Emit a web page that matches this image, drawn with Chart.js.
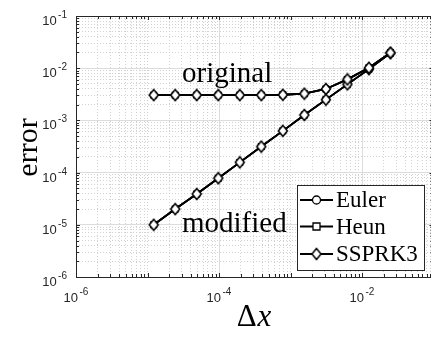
<!DOCTYPE html>
<html>
<head>
<meta charset="utf-8">
<script src="https://cdn.jsdelivr.net/npm/chart.js@4/dist/chart.umd.min.js"></script>
<style>
  html, body { margin: 0; padding: 0; background: #fff; overflow: hidden; }
  #wrap { width: 440px; height: 337px; }
</style>
</head>
<body>
<div id="wrap"><canvas id="miGrafico" width="440" height="337"></canvas></div>
<script>
// grid spacing dx and the error of each scheme
const dx = [1.2207e-5, 2.4414e-5, 4.8828e-5, 9.7656e-5, 1.9531e-4, 3.9063e-4,
            7.8125e-4, 1.5625e-3, 3.125e-3, 6.25e-3, 1.25e-2, 2.5e-2];
const errOriginal = [3.05e-3, 3.05e-3, 3.05e-3, 3.05e-3, 3.05e-3, 3.05e-3,
                     3.1e-3, 3.25e-3, 4.0e-3, 6.1e-3, 1.02e-2, 1.98e-2];
const errModified = [1.0e-5, 2.0e-5, 3.9e-5, 7.8e-5, 1.57e-4, 3.15e-4,
                     6.3e-4, 1.27e-3, 2.5e-3, 4.9e-3, 9.6e-3, 1.95e-2];
const methods = ['Euler', 'Heun', 'SSPRK3'];
const xTickExp = [-6, -4, -2];
const yTickExp = [-1, -2, -3, -4, -5, -6];
const labelOriginal = 'original';
const labelModified = 'modified';

const serif = '"Liberation Serif", "DejaVu Serif", serif';
const sans = '"Liberation Sans", Arial, sans-serif';
const axisColor = '#262626';

// taller diamond like the matlab marker
function makeDiamond(w, h) {
    const c = document.createElement('canvas');
    c.width = w + 3; c.height = h + 3;
    const g = c.getContext('2d');
    const cx = c.width / 2, cy = c.height / 2;
    g.beginPath();
    g.moveTo(cx, cy - h / 2);
    g.lineTo(cx + w / 2, cy);
    g.lineTo(cx, cy + h / 2);
    g.lineTo(cx - w / 2, cy);
    g.closePath();
    g.fillStyle = '#fff';
    g.fill();
    g.lineWidth = 1.5;
    g.strokeStyle = '#000';
    g.stroke();
    return c;
}
const diamond = makeDiamond(9, 11);
const markers = { Euler: 'circle', Heun: 'rect', SSPRK3: diamond };

function pts(ys) { return dx.map((x, i) => ({ x: x, y: ys[i] })); }

// order: higher number is drawn first, so SSPRK3 ends up on top
const datasets = [];
methods.forEach((m, mi) => {
    [errOriginal, errModified].forEach(ys => {
        datasets.push({
            label: m,
            data: pts(ys),
            order: methods.length - mi,
            showLine: true,
            borderColor: '#000',
            backgroundColor: '#fff',
            borderWidth: 1.8,
            pointStyle: markers[m],
            pointRadius: m === 'Euler' ? 3.5 : 4,
            pointBorderWidth: 1.3,
            pointBorderColor: '#000',
            pointBackgroundColor: '#fff'
        });
    });
});

function logTicks(lo, hi) {
    const t = [];
    for (let e = lo; e < hi; e++) {
        for (let k = 1; k < 10; k++) t.push({ value: k * Math.pow(10, e), major: k === 1 });
    }
    t.push({ value: Math.pow(10, hi), major: true });
    return t;
}
function isDecade(v) {
    const l = Math.log10(v);
    return Math.abs(l - Math.round(l)) < 1e-6;
}
function isLabeledX(v) {
    return isDecade(v) && Math.round(Math.log10(v)) % 2 === 0;
}

const gridMajor = '#dcdcdc';
const gridMinor = '#d2d2d2';

// box, inward ticks, power-of-ten labels, annotations and legend
const decorPlugin = {
    id: 'decor',
    afterDraw(chart) {
        const ctx = chart.ctx;
        const a = chart.chartArea;
        const xs = chart.scales.x, ys = chart.scales.y;
        ctx.save();

        // ticks on all four sides
        ctx.strokeStyle = axisColor;
        ctx.lineWidth = 1;
        xs.ticks.forEach(t => {
            const px = Math.round(xs.getPixelForValue(t.value)) + 0.5;
            const len = isDecade(t.value) ? 4 : 3;
            ctx.beginPath();
            ctx.moveTo(px, a.bottom); ctx.lineTo(px, a.bottom - len);
            ctx.moveTo(px, a.top); ctx.lineTo(px, a.top + len);
            ctx.stroke();
        });
        ys.ticks.forEach(t => {
            const py = Math.round(ys.getPixelForValue(t.value)) + 0.5;
            const len = isDecade(t.value) ? 4 : 3;
            ctx.beginPath();
            ctx.moveTo(a.left, py); ctx.lineTo(a.left + len, py);
            ctx.moveTo(a.right, py); ctx.lineTo(a.right - len, py);
            ctx.stroke();
        });

        // box
        ctx.strokeStyle = axisColor;
        ctx.lineWidth = 1;
        ctx.strokeRect(Math.round(a.left) + 0.5, Math.round(a.top) + 0.5,
                       Math.round(a.right - a.left), Math.round(a.bottom - a.top));

        // tick labels 10^n
        ctx.fillStyle = axisColor;
        ctx.textBaseline = 'alphabetic';
        function powLabel(x, y, exp, align) {
            ctx.font = '13px ' + sans;
            const wb = ctx.measureText('10').width;
            ctx.font = '10px ' + sans;
            const sup = String(exp);
            const we = ctx.measureText(sup).width;
            const gap = 1.5;
            let x0 = align === 'right' ? x - (wb + gap + we) : x - (wb + gap + we) / 2;
            ctx.textAlign = 'left';
            ctx.font = '13px ' + sans;
            ctx.fillText('10', x0, y);
            ctx.font = '10px ' + sans;
            ctx.fillText(sup, x0 + wb + gap, y - 7);
        }
        xTickExp.forEach(e => {
            powLabel(xs.getPixelForValue(Math.pow(10, e)), a.bottom + 25, e, 'center');
        });
        yTickExp.forEach(e => {
            powLabel(a.left - 9, ys.getPixelForValue(Math.pow(10, e)) + 9, e, 'right');
        });

        // axis titles
        ctx.fillStyle = '#000';
        ctx.font = '30px ' + serif;
        ctx.save();
        ctx.translate(37, 147.5);
        ctx.rotate(-Math.PI / 2);
        ctx.textAlign = 'center';
        ctx.fillText('error', 0, 0);
        ctx.restore();

        ctx.textAlign = 'left';
        ctx.font = '31px ' + serif;
        const wD = ctx.measureText('\u0394').width;
        ctx.font = 'italic 31px ' + serif;
        const wX = ctx.measureText('x').width;
        const x0 = 254 - (wD + wX + 1) / 2;
        ctx.font = '31px ' + serif;
        ctx.fillText('\u0394', x0, 326);
        ctx.font = 'italic 31px ' + serif;
        ctx.fillText('x', x0 + wD + 1, 326);

        // curve annotations
        ctx.font = '29px ' + serif;
        ctx.fillText(labelOriginal, 182, 82);
        ctx.fillText(labelModified, 182, 232);

        // legend
        const lx = 297.5, ly = 185.5, lw = 127, lh = 85;
        ctx.fillStyle = '#fff';
        ctx.fillRect(lx, ly, lw, lh);
        ctx.strokeStyle = axisColor;
        ctx.lineWidth = 1;
        ctx.strokeRect(lx, ly, lw, lh);
        const rows = [200, 226.5, 254];
        methods.forEach((m, i) => {
            const y = rows[i];
            ctx.strokeStyle = '#000';
            ctx.lineWidth = 1.8;
            ctx.beginPath();
            ctx.moveTo(300, y); ctx.lineTo(333, y);
            ctx.stroke();
            ctx.fillStyle = '#fff';
            ctx.lineWidth = 1.3;
            ctx.beginPath();
            if (m === 'Euler') {
                ctx.arc(316.5, y, 4, 0, Math.PI * 2);
                ctx.fill(); ctx.stroke();
            } else if (m === 'Heun') {
                ctx.rect(313, y - 3.5, 7, 7);
                ctx.fill(); ctx.stroke();
            } else {
                ctx.drawImage(diamond, 316.5 - diamond.width / 2, y - diamond.height / 2);
            }
            ctx.fillStyle = '#000';
            ctx.font = '23px ' + serif;
            ctx.textBaseline = 'middle';
            ctx.fillText(m, 336, y + 1);
            ctx.textBaseline = 'alphabetic';
        });

        ctx.restore();
    }
};

window.addEventListener('load', () => {
    const ctx = document.querySelector('#miGrafico').getContext('2d');

    const miGrafico = new Chart(ctx, {
        type: 'scatter',
        data: { datasets: datasets },
        options: {
            responsive: false,
            animation: false,
            devicePixelRatio: 1,
            layout: { padding: { left: 76, top: 16, right: 6.5, bottom: 60 } },
            plugins: { legend: { display: false }, tooltip: { enabled: false } },
            scales: {
                x: {
                    type: 'logarithmic',
                    min: 1e-6, max: 1e-1,
                    afterBuildTicks: s => { s.ticks = logTicks(-6, -1); },
                    ticks: { display: false },
                    border: { display: false, dash: c => isLabeledX(c.tick.value) ? [] : [1, 2] },
                    grid: {
                        drawTicks: false,
                        color: c => isLabeledX(c.tick.value) ? gridMajor : gridMinor
                    }
                },
                y: {
                    type: 'logarithmic',
                    min: 1e-6, max: 1e-1,
                    afterBuildTicks: s => { s.ticks = logTicks(-6, -1); },
                    ticks: { display: false },
                    border: { display: false, dash: c => isDecade(c.tick.value) ? [] : [1, 2] },
                    grid: {
                        drawTicks: false,
                        color: c => isDecade(c.tick.value) ? gridMajor : gridMinor
                    }
                }
            }
        },
        plugins: [decorPlugin]
    });
});
</script>
</body>
</html>
